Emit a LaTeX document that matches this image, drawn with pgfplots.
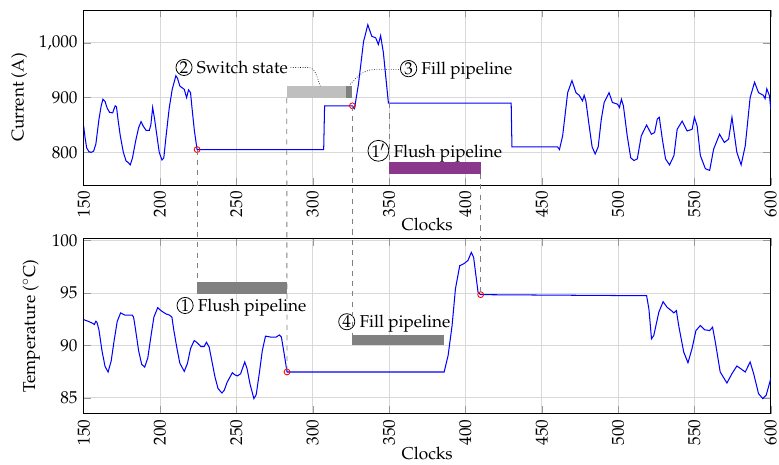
\documentclass[border=0pt]{standalone}
\usepackage[T1]{fontenc}
\usepackage{mathpazo}
\usepackage{pgfplots}
\pgfplotsset{compat=1.18}
\definecolor{flushviolet}{RGB}{139,55,139}
\newcommand{\circnum}[1]{\tikz[baseline=(c.base)]\node[draw,circle,inner sep=0.3pt,line width=0.45pt](c){#1};}

\pgfplotsset{
  trace/.style={
    scale only axis, width=400pt, height=102pt,
    xmin=150, xmax=600, xtick={150,200,...,600},
    xticklabel style={rotate=90, anchor=east},
    xlabel={Clocks},
    xlabel style={yshift=6pt},
    xmajorgrids, ymajorgrids,
    grid style={gray!30, line width=0.5pt},
    tick style={gray!80},
    anchor=north west,
  },
}

\begin{document}
\begin{tikzpicture}
  \useasboundingbox (-48.7pt,5.8pt) rectangle (404.8pt,-264.8pt);
  \begin{axis}[trace, at={(0,0)},
      ymin=740, ymax=1060, ytick={800,900,1000},
      ylabel={Current (A)}]
    \fill[gray!50] (axis cs:283,899) rectangle (axis cs:321.5,921);
    \fill[gray] (axis cs:321.5,899) rectangle (axis cs:326,921);
    \fill[flushviolet] (axis cs:350,760.5) rectangle (axis cs:410,782);
    \addplot[blue, line width=0.6pt, mark=none] coordinates {
      (150,848) (151,825) (152,808) (153.5,801) (155,800) (156.5,802)
      (158,815) (160,860) (161.5,885) (162.6,897) (164,893) (165.5,880)
      (167,873) (169,872) (170,880) (170.7,885) (171.5,883) (172.5,860)
      (174,830) (176,800) (177.8,784) (179,782) (180.5,777) (182,790)
      (184,820) (186,845) (187.6,856) (189,848) (190.9,840) (193,840)
      (194,850) (195.2,882) (196.5,860) (198,830) (199.5,800) (201.3,786)
      (202.5,790) (204,830) (206,880) (208,915) (210.4,940) (211.5,935)
      (213,921) (215.9,915) (217.4,900) (218.7,914) (220,909) (221,880)
      (222.5,840) (224.3,805)
      (307.2,805) (307.8,885) (326,885) (327.4,880) (330,925) (333.3,1002)
      (336.1,1033) (338.7,1012) (341.3,1009) (343,997) (344.5,1013)
      (346.3,982) (349.6,890) (430,890) (430.5,810) (460.4,810) (461.6,805)
      (463.7,830) (467,909) (469.8,931) (472.4,909) (474.6,904) (476.7,894)
      (477.8,904) (478.9,894) (481,850) (483,810) (485,797) (487,810)
      (489,860) (490.9,891) (494.1,909) (496.3,891) (499.6,888) (500.9,882)
      (502.2,897) (503.5,885) (506,830) (508.3,790) (510.4,785) (512.6,788)
      (515.2,830) (518.7,850) (521.8,833) (523.9,836) (525.7,861) (527,864)
      (529,824) (531.1,788) (533.7,777) (536.6,794) (538.7,842) (542,857)
      (545.2,839) (548.5,842) (550,864) (551.8,848) (553.9,794) (557.2,770)
      (560,767) (562.6,806) (566.5,833) (569.6,818) (572.4,824) (574.6,864)
      (577.8,800) (580.6,777) (583.3,812) (586.5,900) (589.4,928) (592,909)
      (595.2,904) (596.3,898) (597.4,916) (599.2,903) (600,879)
    };
    \addplot[red, only marks, mark=o, mark size=1.7pt, line width=0.5pt]
      coordinates {(224.3,805) (326,885)};
    % annotations
    \node at (axis cs:247,955) {\circnum{2} Switch state};
    \node at (axis cs:394,951) {\circnum{3} Fill pipeline};
    \node at (axis cs:380,802) {\circnum{$1'$} Flush pipeline};
    \draw[densely dotted, line width=0.4pt] (axis cs:285.5,955) -- (axis cs:297,955)
      .. controls (axis cs:302,955) and (axis cs:303,935) .. (axis cs:305,921);
    \draw[densely dotted, line width=0.4pt] (axis cs:358,951) -- (axis cs:340,951)
      .. controls (axis cs:333,951) and (axis cs:328,935) .. (axis cs:324.6,924);
    \coordinate (a1) at (axis cs:224.3,805);
    \coordinate (a2) at (axis cs:283,899);
    \coordinate (a3) at (axis cs:326,885);
    \coordinate (a4) at (axis cs:350,890);
    \coordinate (a4b) at (axis cs:350,782);
    \coordinate (a5) at (axis cs:410,760.5);
  \end{axis}

  \begin{axis}[trace, at={(0,-133pt)},
      ymin=83.5, ymax=100.2, ytick={85,90,95,100},
      ylabel={Temperature ($^{\circ}$C)}]
    \fill[gray] (axis cs:224.3,94.9) rectangle (axis cs:283.2,96.0);
    \fill[gray] (axis cs:326,90) rectangle (axis cs:386,91);
    \addplot[blue, line width=0.6pt, mark=none] coordinates {
      (150,92.46) (153,92.3) (156,92.1) (157,92.0) (158,92.3) (158.7,92.2)
      (160,91.5) (162,89.5) (164,88) (166,87.47) (168,88.5) (170,90.5)
      (172,92.3) (174.2,93.1) (177,92.9) (180,92.9) (181.8,92.9) (182.7,92.7)
      (184,91.5) (186,89.5) (188,88.2) (190,87.94) (192,88.8) (194,90.8)
      (196,92.7) (198.5,93.6) (200,93.4) (201.8,93.2) (204,93.0) (206.1,92.9)
      (207.8,92.7) (209,91.5) (211,89.8) (213,88.3) (215.9,87.53) (218,88.3)
      (220,89.7) (222.4,90.47) (224,90.3) (226.8,89.9) (228.9,89.9)
      (230.4,90.3) (232.2,89.84) (234,88.5) (236,87.0) (238,85.9)
      (240.5,85.47) (242,85.7) (244,86.5) (247.4,87.4) (249,87.2)
      (250.7,87.1) (252.8,87.3) (255.5,88.42) (257,87.8) (259,86.3)
      (261.5,84.93) (263,85.3) (265,87.3) (267,89.5) (269.1,90.89)
      (272.4,90.8) (276.1,90.8) (278.2,91.0) (279.5,90.8) (281,89.5)
      (283.2,87.47) (386.1,87.47) (388.7,89.05) (391.3,91.9) (393.5,95.4)
      (396.3,97.6) (399.1,97.8) (401.7,98.1) (403.9,98.87) (405.4,98.4)
      (408.3,95.07) (410,94.84) (518.7,94.74) (520.2,93.48) (521.9,90.63)
      (523.4,90.95) (526.7,93.17) (529.5,94.17) (532.1,93.64) (534.9,93.32)
      (536.5,93.1) (538.2,93.32) (539.7,91.9) (543,89.37) (545.8,88.35)
      (548.4,89.68) (551,91.42) (553.9,91.9) (556.7,91.49) (560,91.42)
      (561.9,91.74) (563.7,90.32) (566.9,87.47) (571.3,86.42) (574.6,87.31)
      (577.8,88.04) (580.4,87.78) (583.3,87.47) (586.5,88.42) (588.8,87.31)
      (592,85.41) (594.8,84.93) (597,85.25) (599.7,86.67) (600,86.9)
    };
    \addplot[red, only marks, mark=o, mark size=1.7pt, line width=0.5pt]
      coordinates {(283.2,87.47) (410,94.84)};
    \node at (axis cs:253.4,93.7) {\circnum{1} Flush pipeline};
    \node at (axis cs:353.5,92.15) {\circnum{4} Fill pipeline};
    \coordinate (b1) at (axis cs:224.3,96.0);
    \coordinate (b2) at (axis cs:283.2,87.47);
    \coordinate (b3) at (axis cs:326,91);
    \coordinate (b5) at (axis cs:410,94.84);
  \end{axis}

  \begin{scope}[gray, dashed, line width=0.5pt]
    \draw (a1) -- (b1);
    \draw (a2) -- (b2);
    \draw (a3) -- (b3);
    \draw (a4) -- (a4b);
    \draw (a5) -- (b5);
  \end{scope}
\end{tikzpicture}
\end{document}
